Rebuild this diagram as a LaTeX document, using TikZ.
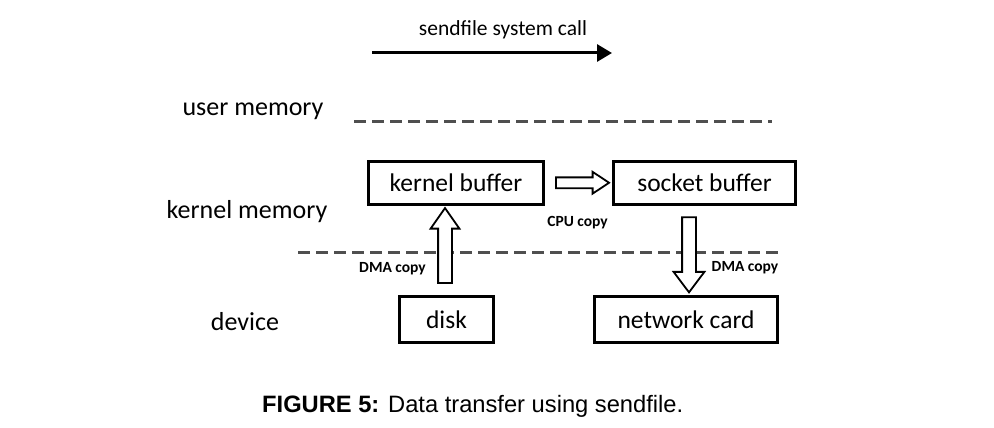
\documentclass[tikz,border=0pt]{standalone}
\usepackage{fontspec}
\setmainfont{Carlito}
\newfontfamily\capfont{Liberation Sans}
\usepackage{tikz}
\usetikzlibrary{shapes,arrows.meta,positioning,calc}

\definecolor{dashgray}{HTML}{4F4F4F}

\begin{document}
\begin{tikzpicture}[  x=1pt, y=-1pt,  layer/.style={font=\fontsize{26}{30}\selectfont, inner sep=0pt},  buf/.style={draw, line width=3pt, fill=white, inner sep=0pt, font=\fontsize{25.5}{30}\selectfont},  copylabel/.style={font=\bfseries\fontsize{15.5}{18}\selectfont, inner sep=0pt},  boundary/.style={draw=dashgray, line width=3pt, dash pattern=on 12pt off 6pt},  blockarrow/.style={single arrow, draw, line width=1.8pt, fill=white, inner xsep=0pt, minimum width=0pt, single arrow head indent=0pt},  ]

  \useasboundingbox (0,0) rectangle (994,428);

  % system call arrow
  \coordinate (callstart) at (372,53);
  \coordinate (callend) at (612,53);
  \draw[line width=3pt, -{Triangle[length=15pt,width=17pt]}] (callstart) -- (callend);
  \node[font=\fontsize{21.5}{24}\selectfont, inner sep=0pt] (calllabel) at (503,30) {sendfile system call};

  % memory layers
  \node[layer] (usermem) at (253,111) {user memory};
  \node[layer] (kernmem) at (247,212) {kernel memory};
  \node[layer] (devlayer) at (245,322) {device};

  \coordinate (ustart) at (354,121);
  \coordinate (uend) at (772,121);
  \coordinate (kstart) at (298,252);
  \coordinate (kend) at (778,252);
  \draw[boundary] (ustart) -- (uend);
  \draw[boundary] (kstart) -- (kend);

  % buffers and devices
  \node[buf, minimum width=175pt, minimum height=43pt] (kb) at (456,183) {kernel buffer};
  \node[buf, minimum width=182pt, minimum height=43pt] (sb) at (704.5,182.5) {socket buffer};
  \node[buf, minimum width=94pt, minimum height=46pt] (disk) at (446.5,319.5) {disk};
  \node[buf, minimum width=183pt, minimum height=46pt] (nc) at (686,319.5) {network card};

  % copies
  \path (kb.east) -- (sb.west)
    node[midway, blockarrow, minimum height=53pt, inner ysep=4.5pt,
         single arrow head extend=5.5pt, single arrow tip angle=67] (cpucopy) {};
  \path ($(disk.north)+(-1.5,0)$) -- ($(disk.north |- kb.south)+(-1.5,0)$)
    node[midway, blockarrow, rotate=90, minimum height=75pt, inner ysep=6pt,
         single arrow head extend=7.5pt, single arrow tip angle=70] (dmain) {};
  \path ($(nc.north)+(3,0)$) -- ($(nc.north |- sb.south)+(3,0)$)
    node[midway, blockarrow, rotate=-90, minimum height=75pt, inner ysep=6pt,
         single arrow head extend=8.5pt, single arrow tip angle=74] (dmaout) {};

  \node[copylabel] (cpulabel) at (577.5,223) {CPU copy};
  \node[copylabel] (dmainlabel) at (392.5,269) {DMA copy};
  \node[copylabel] (dmaoutlabel) at (745,268) {DMA copy};

  % caption
  \node[font=\capfont\fontsize{23.7}{28}\selectfont, inner sep=0pt, anchor=west] (caption) at (262,406)
    {\textbf{FIGURE 5:} Data transfer using sendfile.};
\end{tikzpicture}
\end{document}
